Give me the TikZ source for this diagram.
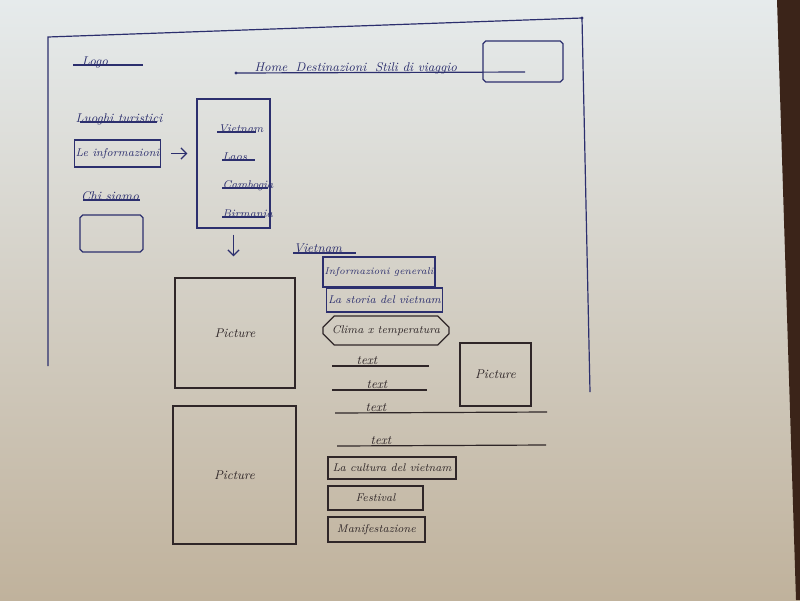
\documentclass[tikz,border=0pt]{standalone}
\usepackage{tikz}
\usetikzlibrary{arrows.meta,positioning,shapes.misc}
\definecolor{InkBlue}{HTML}{2C2F6E}
\definecolor{InkDark}{HTML}{2F2628}
\definecolor{PaperTop}{HTML}{E6EBEC}
\definecolor{PaperMid}{HTML}{D9D5CB}
\definecolor{PaperLow}{HTML}{C0B29C}
\definecolor{TableBrown}{HTML}{3B2419}
\tikzset{
  % Corner cut size
  cutsize/.style={chamfered rectangle xsep=#1,chamfered rectangle ysep=#1},
  % Base box
  WB/.style={rectangle,draw,line width=0.85pt,inner sep=1pt,
             text centered,font=\footnotesize\itshape},
  % Cut corner box
  CB/.style={chamfered rectangle,cutsize=5pt,draw,line width=0.85pt,
             inner sep=1pt,text centered,font=\footnotesize\itshape},
  % Plain label
  LB/.style={inner sep=1pt,font=\small\itshape},
  % Pen stroke
  pen/.style={line width=0.85pt},
  % Arrow
  arr/.style={-{Straight Barb[length=4pt,width=8pt]},line width=0.85pt},
  % Ink variants
  bB/.style={WB,draw=InkBlue,text=InkBlue},
  bD/.style={WB,draw=InkDark,text=InkDark},
  pD/.style={bD,font=\small\itshape},
  cB/.style={CB,draw=InkBlue,text=InkBlue},
  cD/.style={CB,draw=InkDark,text=InkDark},
  lB/.style={LB,text=InkBlue,anchor=base},
  lD/.style={LB,text=InkDark,anchor=base},
  mB/.style={LB,text=InkBlue,anchor=base west,font=\footnotesize\itshape}
}

\begin{document}
\begin{tikzpicture}[x=0.025cm,y=-0.025cm]
  \shade[top color=PaperTop,middle color=PaperMid,bottom color=PaperLow] (0,0) rectangle (800,600);
  \fill[TableBrown] (777,0) -- (800,0) -- (800,600) -- (796,600) -- cycle;
  \useasboundingbox (0,0) rectangle (800,600);
  % page frame
  \coordinate (fBL) at (48,366);
  \coordinate (fTL) at (48,37);
  \coordinate (fTR) at (582,18);
  \coordinate (fBR) at (590,392);
  \draw[pen,InkBlue] (fBL) -- (fTL) -- (fTR) -- (fBR);
  \fill[InkBlue] (fTR) circle (1.2pt);
  % header
  \node[lB] (logo) at (95,65) {Logo};
  \draw[pen,InkBlue] (73,65) -- (143,65);
  \node[lB] (home)  at (271,71) {Home};
  \node[lB] (dest)  at (331,71) {Destinazioni};
  \node[lB] (stili) at (416,71) {Stili di viaggio};
  \draw[pen,InkBlue] (236,73) -- (525,72);
  \fill[InkBlue] (236,73) circle (1.2pt);
  \node[cB,minimum width=2cm,minimum height=1.025cm,cutsize=6pt] (search) at (523,61.5) {};
  % left menu
  \node[lB] (luoghi) at (119,122) {Luoghi turistici};
  \draw[pen,InkBlue] (80,122) -- (157,122);
  \node[bB,minimum width=2.075cm,minimum height=0.675cm] (info) at (117.5,153.5) {Le informazioni};
  \node[lB] (chi) at (110,200) {Chi siamo};
  \draw[pen,InkBlue] (83,200) -- (140,200);
  \node[cB,minimum width=1.575cm,minimum height=0.925cm,cutsize=4pt] (chibox) at (111.5,233.5) {};
  % drop-down
  \node[bB,minimum width=1.825cm,minimum height=3.225cm] (menu) at (233.5,163.5) {};
  \node[mB] (mVie) at (217,132) {Vietnam};
  \node[mB] (mLao) at (221,160) {Laos};
  \node[mB] (mCam) at (221,188) {Cambogia};
  \node[mB] (mBir) at (221,217) {Birmania};
  \draw[pen,InkBlue] (217,132) -- (256,132);
  \draw[pen,InkBlue] (222,160) -- (255,160);
  \draw[pen,InkBlue] (222,188) -- (268,188);
  \draw[pen,InkBlue] (222,217) -- (265,217);
  \draw[arr,InkBlue,shorten <=0.25cm,shorten >=0.225cm] (info.east) -- (menu.west |- info.east);
  % vietnam page
  \node[pD,minimum width=3cm,minimum height=2.75cm] (pic1) at (235,333) {Picture};
  \draw[arr,InkBlue,shorten <=0.15cm,shorten >=0.525cm] (menu.south) -- (menu.south |- pic1.north);
  \node[lB] (vTitle) at (318,252) {Vietnam};
  \draw[pen,InkBlue] (293,253) -- (356,253);
  \node[bB,minimum width=2.65cm,minimum height=0.75cm,font=\scriptsize\itshape] (genInfo) at (379,272) {Informazioni generali};
  \node[bB,minimum width=2.825cm,minimum height=0.6cm] (storia) at (384.5,300) {La storia del vietnam};
  \node[cD,minimum width=3.15cm,minimum height=0.725cm,cutsize=4pt] (clima) at (386,330.5) {Clima x temperatura};
  \node[lD] (txt1) at (367,364) {text};
  \draw[pen,InkDark] (332,366) -- (429,366);
  \node[lD] (txt2) at (377,388) {text};
  \draw[pen,InkDark] (332,390) -- (427,390);
  \node[lD] (txt3) at (376,411) {text};
  \draw[pen,InkDark] (335,413) -- (547,412);
  \node[lD] (txt4) at (381,444) {text};
  \draw[pen,InkDark] (337,446) -- (546,445);
  \node[pD,minimum width=1.775cm,minimum height=1.575cm] (pic2) at (495.5,374.5) {Picture};
  \node[pD,minimum width=3.075cm,minimum height=3.45cm] (pic3) at (234.5,475) {Picture};
  \node[bD,minimum width=3.2cm,minimum height=0.55cm] (cultura) at (392,468) {La cultura del vietnam};
  \node[bD,minimum width=2.375cm,minimum height=0.6cm] (festival) at (375.5,498) {Festival};
  \node[bD,minimum width=2.425cm,minimum height=0.625cm] (manif) at (376.5,529.5) {Manifestazione};
\end{tikzpicture}
\end{document}
